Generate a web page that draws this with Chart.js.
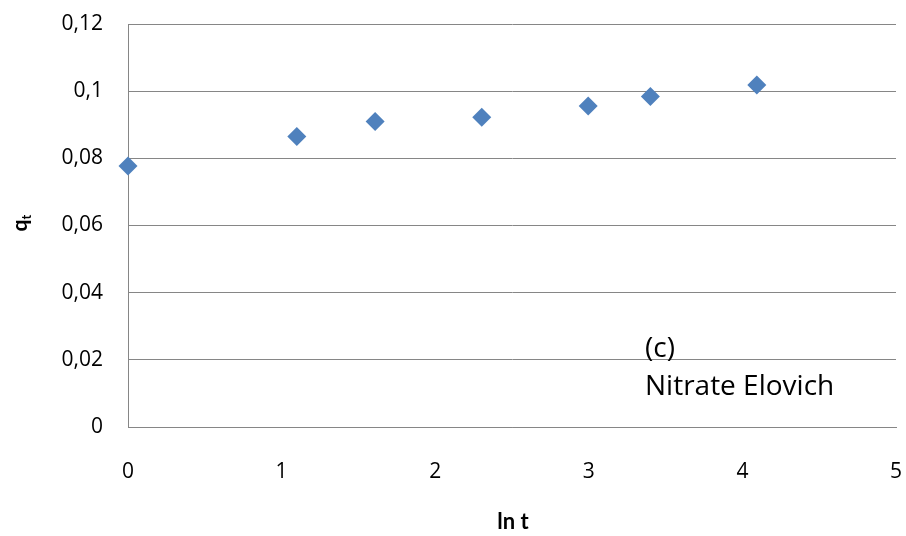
<!DOCTYPE html>
<html>
<head>
<meta charset="utf-8">
<script src="https://cdn.jsdelivr.net/npm/chart.js@4"></script>
<style>
  html, body { margin: 0; padding: 0; background: #fff; }
  #wrap { width: 906px; height: 536px; }
</style>
</head>
<body>
<div id="wrap"><canvas id="chart" width="906" height="536"></canvas></div>
<script>
// values
const lnT = [0, 1.099, 1.609, 2.303, 2.996, 3.401, 4.094]
const qt = [0.0777, 0.0865, 0.0910, 0.0922, 0.0956, 0.0984, 0.1018]
const xTicks = [0, 1, 2, 3, 4, 5]
const yTicks = [0, 0.02, 0.04, 0.06, 0.08, 0.1, 0.12]
const xTitle = 'ln t'
const yTitle = ['q', 't']
const note = ['(c)', 'Nitrate Elovich']

const font = '"Open Sans", sans-serif'
const fmt = v => Number(v.toFixed(2)).toString().replace('.', ',')

// axis titles + the note in the plot
const textPlugin = {
    id: 'texts',
    afterDraw(chart) {
        const ctx = chart.ctx
        ctx.save()
        ctx.fillStyle = '#000'
        ctx.textBaseline = 'alphabetic'

        // x title
        ctx.font = 'bold 22px Lato, sans-serif'
        ctx.textAlign = 'center'
        ctx.fillText(xTitle, 513, 529)

        // y title with subscript
        ctx.translate(27, 223)
        ctx.rotate(-Math.PI / 2)
        ctx.textAlign = 'left'
        ctx.font = 'bold 21px Lato, sans-serif'
        const w = ctx.measureText(yTitle[0]).width
        ctx.font = 'bold 13px Lato, sans-serif'
        const ws = ctx.measureText(yTitle[1]).width
        ctx.font = 'bold 21px Lato, sans-serif'
        ctx.fillText(yTitle[0], -(w + ws) / 2, 0)
        ctx.font = 'bold 13px Lato, sans-serif'
        ctx.fillText(yTitle[1], -(w + ws) / 2 + w, 4)
        ctx.restore()

        // note
        ctx.save()
        ctx.fillStyle = '#000'
        ctx.font = '28px ' + font
        ctx.textAlign = 'left'
        ctx.textBaseline = 'middle'
        ctx.fillText(note[0], 645, 349)
        ctx.fillText(note[1], 645, 387)
        ctx.restore()
    }
}

const data = {
    datasets: [{
        data: lnT.map((x, i) => ({x: x, y: qt[i]})),
        backgroundColor: '#4F81BD',
        borderColor: '#4F81BD',
        borderWidth: 0,
        pointStyle: 'rectRot',
        pointRadius: 9.5,
        pointHoverRadius: 9.5,
        clip: false
    }]
}

const config = {
    type: 'scatter',
    data: data,
    options: {
        responsive: false,
        animation: false,
        layout: { padding: { top: 24, right: 10, left: 0, bottom: 0 } },
        plugins: {
            legend: { display: false },
            tooltip: { enabled: false }
        },
        scales: {
            x: {
                type: 'linear',
                min: 0,
                max: 5,
                afterBuildTicks: s => { s.ticks = xTicks.map(v => ({value: v})) },
                afterFit: s => { s.height = 536 - 427; s.paddingLeft = 0; s.paddingRight = 0 },
                grid: { display: false, drawTicks: false },
                border: { display: true, color: '#868686', width: 1 },
                ticks: {
                    padding: 32,
                    color: '#000',
                    maxRotation: 0,
                    font: { family: font, size: 21 },
                    callback: v => fmt(v)
                }
            },
            y: {
                type: 'linear',
                min: 0,
                max: 0.12,
                afterBuildTicks: s => { s.ticks = yTicks.map(v => ({value: v})) },
                afterFit: s => { s.width = 128; s.paddingTop = 0; s.paddingBottom = 0 },
                grid: { color: '#868686', lineWidth: 1, drawTicks: false },
                border: { display: true, color: '#868686', width: 1 },
                ticks: {
                    padding: 25,
                    color: '#000',
                    font: { family: font, size: 21 },
                    callback: v => fmt(v)
                }
            }
        }
    },
    plugins: [textPlugin]
}

let ctx = document.querySelector('#chart').getContext('2d')
const myChart = new Chart(ctx, config)
</script>
</body>
</html>
